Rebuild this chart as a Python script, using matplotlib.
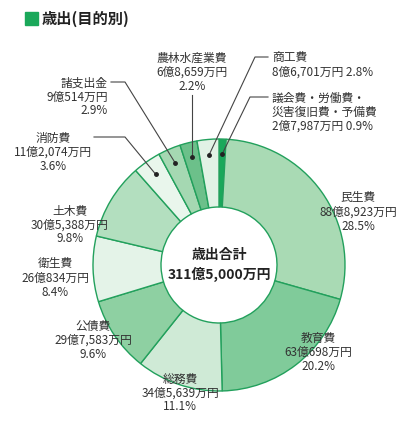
import numpy as np
import matplotlib.pyplot as plt
from matplotlib.patches import Rectangle

plt.rcParams['font.family'] = ['Noto Sans CJK JP', 'DejaVu Sans']

# clockwise from 12 o'clock
names = ['議会費・労働費・災害復旧費・予備費', '民生費', '教育費', '総務費', '公債費', '衛生費',
         '土木費', '消防費', '諸支出金', '農林水産業費', '商工費']
amounts = ['2億7,987万円', '88億8,923万円', '63億698万円', '34億5,639万円', '29億7,583万円',
           '26億834万円', '30億5,388万円', '11億2,074万円', '9億514万円', '6億8,659万円', '8億6,701万円']
shares = [0.9, 28.5, 20.2, 11.1, 9.6, 8.4, 9.8, 3.6, 2.9, 2.2, 2.8]
colors = ['#1aa85a', '#a9dab4', '#80cb9a', '#cfeAd6', '#8ed0a2', '#e4f3e8',
          '#b3dfbf', '#e9f6ec', '#a5d8b2', '#6cc08a', '#e1f2e5']

fig = plt.figure(figsize=(4.17, 4.30), dpi=100)
ax = fig.add_axes([0, 0, 1, 1])

cx, cy, R = 219, 165, 126
wedges, _ = ax.pie(shares, startangle=90, counterclock=False, colors=colors,
                   center=(cx, cy), radius=R, frame=True,
                   wedgeprops=dict(width=R - 58, edgecolor='#22a05c', linewidth=1.0))
ax.set_xlim(0, 417)
ax.set_ylim(0, 430)
ax.set_aspect('equal')
ax.axis('off')

ax.text(cx, cy + 10, '歳出合計', ha='center', va='center', fontsize=10, fontweight='bold', color='#222')
ax.text(cx, cy - 9, '311億5,000万円', ha='center', va='center', fontsize=10, fontweight='bold', color='#222')

# title
ax.add_patch(Rectangle((25, 405), 13, 13, color='#1aa85a'))
ax.text(42, 411, '歳出(目的別)', ha='left', va='center', fontsize=11, fontweight='bold', color='#222')

fs = 8.5
ls = 1.1
inside = {1: (358, 218), 2: (318, 78), 3: (180, 37), 4: (93, 90), 5: (55, 152), 6: (70, 205)}
for i, (x, y) in inside.items():
    ax.text(x, y, f'{names[i]}\n{amounts[i]}\n{shares[i]}%', ha='center', va='center',
            fontsize=fs, linespacing=ls, color='#333')


def dot(i, frac=0.88):
    w = wedges[i]
    ang = np.deg2rad((w.theta1 + w.theta2) / 2)
    return cx + R * frac * np.cos(ang), cy + R * frac * np.sin(ang)


lc = '#444'
# 消防費
d = dot(7)
ax.text(92, 278, f'{names[7]}\n{amounts[7]}\n{shares[7]}%', ha='right', va='center',
        fontsize=fs, linespacing=ls, color='#333', multialignment='center')
ax.plot([94, 125, d[0]], [293, 293, d[1]], color=lc, lw=0.8)
# 諸支出金
d = dot(8)
ax.text(108, 333, f'{names[8]}\n{amounts[8]}\n{shares[8]}%', ha='right', va='center',
        fontsize=fs, linespacing=ls, color='#333', multialignment='right')
ax.plot([111, 125, d[0]], [348, 348, d[1]], color=lc, lw=0.8)
# 農林水産業費
d = dot(9)
ax.text(d[0], 358, f'{names[9]}\n{amounts[9]}\n{shares[9]}%', ha='center', va='center',
        fontsize=fs, linespacing=ls, color='#333')
ax.plot([d[0], d[0]], [335, d[1]], color=lc, lw=0.8)
# 商工費
d = dot(10)
ax.text(272, 365, f'{names[10]}\n{amounts[10]} {shares[10]}%', ha='left', va='center',
        fontsize=fs, linespacing=ls, color='#333')
ax.plot([268, 255, d[0]], [373, 373, d[1]], color=lc, lw=0.8)
# 議会費・労働費・災害復旧費・予備費
d = dot(0)
ax.text(272, 318, '議会費・労働費・\n災害復旧費・予備費\n' + f'{amounts[0]} {shares[0]}%',
        ha='left', va='center', fontsize=fs, linespacing=ls, color='#333')
ax.plot([268, 250, d[0]], [333, 333, d[1]], color=lc, lw=0.8)

for i in [7, 8, 9, 10, 0]:
    ax.plot(*dot(i), 'o', color='#222', ms=2.5)

fig.savefig('out.png', dpi=100)
